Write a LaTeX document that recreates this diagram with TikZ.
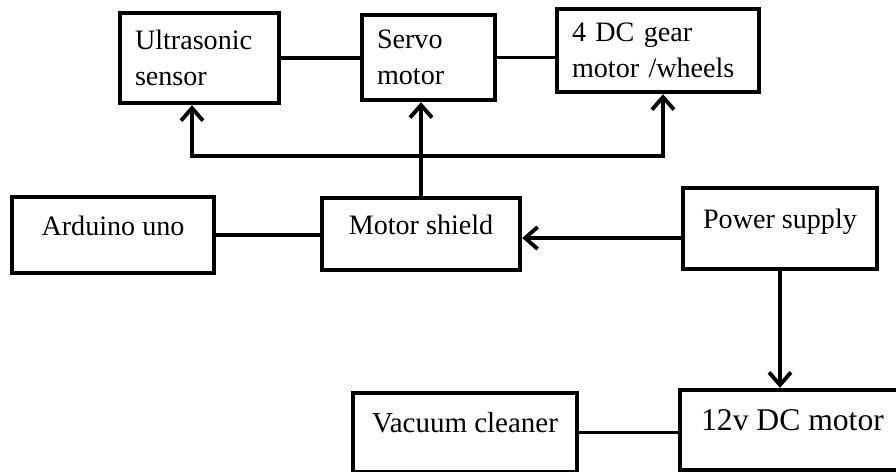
\documentclass[tikz,border=0pt]{standalone}
\usepackage{fontspec}
\setmainfont{Liberation Serif}
\usetikzlibrary{arrows.meta}

\begin{document}
\begin{tikzpicture}[
            blockbox/.style={draw, line width=2.5pt, fill=white, font=\fontsize{16}{20.5}\selectfont},
            wrapbox/.style={blockbox, align=left, inner xsep=0.3cm, inner ysep=0pt},
            linebox/.style={blockbox, align=center, inner sep=0pt, text height=0.35cm, text depth=0.35cm},
            link/.style={line width=2.2pt},
            feed/.style={link, -{Straight Barb[length=2.5mm, width=4.4mm]}}
        ]
            % frame
            \useasboundingbox (0, 0) rectangle (17.92, -9.44);
            \clip (0, 0) rectangle (17.92, -9.44);

            % top row
            \node[wrapbox, text width=2.58cm, minimum height=1.8cm] (sonic) at (3.99, -1.16) {Ultrasonic\\sensor};
            \node[wrapbox, text width=2.06cm, minimum height=1.7cm] (servo) at (8.57, -1.15) {Servo\\motor};
            \node[wrapbox, text width=3.44cm, minimum height=1.66cm] (gear) at (13.16, -1.01) {4 DC gear\\motor /wheels};

            % middle row
            \node[linebox, minimum width=4.04cm, minimum height=1.52cm] (uno) at (2.26, -4.7) {Arduino uno};
            \node[linebox, minimum width=3.96cm, minimum height=1.44cm] (shield) at (8.42, -4.68) {Motor shield};
            \node[linebox, minimum width=3.88cm, minimum height=1.62cm] (power) at (15.6, -4.57) {Power supply};

            % bottom row
            \node[linebox, minimum width=4.48cm, minimum height=1.58cm, font=\fontsize{16.5}{20}\selectfont] (vacuum) at (9.3, -8.65) {Vacuum cleaner};
            \node[linebox, minimum width=4.5cm, minimum height=1.6cm, font=\fontsize{18}{22}\selectfont] (dcmotor) at (15.85, -8.6) {12v DC motor};

            % links between boxes
            \draw[link] (sonic.east) -- (sonic.east -| servo.west);
            \draw[link] (servo.east) -- (servo.east -| gear.west);
            \draw[link] (uno.east) -- (uno.east -| shield.west);
            \draw[link] (vacuum.east) -- (vacuum.east -| dcmotor.west);

            % shield outputs
            \coordinate (bus) at (shield.north |- 0,-3.12);
            \draw[feed] (shield.north) -- (shield.north |- servo.south);
            \draw[feed] (bus) -| ([xshift=-0.15cm]sonic.south);
            \draw[feed] (bus) -| ([xshift=0.1cm]gear.south);

            % power
            \draw[feed] ([yshift=-0.19cm]power.west) -- ([yshift=-0.19cm]power.west -| shield.east);
            \draw[feed] (power.south) -- (power.south |- dcmotor.north);

        \end{tikzpicture}
\end{document}
